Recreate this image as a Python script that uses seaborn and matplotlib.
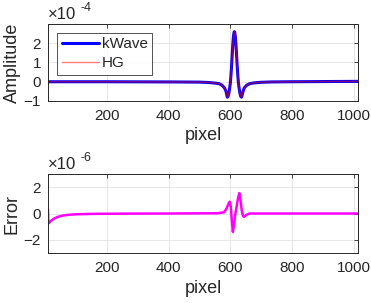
import pandas as pd
import matplotlib
matplotlib.use("Agg")
import matplotlib.pyplot as plt
import seaborn as sns

# amplitude traces (values in units of 1e-4)
amp_x = [10, 200, 400, 500, 530, 550, 563, 573, 581, 586, 588, 590, 592, 595, 598,
         600, 602, 604, 606, 608, 610, 612, 613, 614, 616, 618, 620, 622, 624, 626,
         628, 631, 634, 636, 638, 641, 645, 653, 663, 676, 698, 733, 800, 1013]
amp_y = [0.0, 0.0, -0.01, -0.02, -0.04, -0.07, -0.1, -0.18, -0.32, -0.5, -0.65, -0.8,
         -0.78, -0.6, -0.3, -0.05, 0.35, 0.85, 1.4, 1.95, 2.35, 2.58, 2.6, 2.58, 2.35,
         1.95, 1.4, 0.85, 0.35, -0.05, -0.3, -0.6, -0.78, -0.8, -0.7, -0.5, -0.32,
         -0.18, -0.1, -0.06, -0.03, -0.01, 0.0, 0.02]

# error trace (values in units of 1e-6)
err_x = [10, 11, 14, 20, 30, 40, 55, 75, 100, 150, 250, 400, 560, 580, 588, 594, 598,
         601, 604, 608, 611, 615, 620, 625, 629, 633, 637, 641, 645, 652, 662, 1013]
err_y = [0.35, -0.75, -0.7, -0.55, -0.38, -0.27, -0.17, -0.1, -0.06, -0.03, -0.01, 0.0,
         0.02, 0.1, 0.4, 0.75, 0.9, 0.6, -0.3, -1.4, -1.0, -0.2, 0.5, 1.2, 1.55, 1.0,
         0.2, -0.2, -0.25, -0.1, 0.0, 0.0]

xticks = [200, 400, 600, 800, 1000]

df_amp = pd.DataFrame({"pixel": amp_x, "amp": amp_y})
df_err = pd.DataFrame({"pixel": err_x, "err": err_y})

sns.set_style("white")
plt.rcParams["font.family"] = ["Liberation Sans", "DejaVu Sans"]
dark = "#262626"

fig = plt.figure(figsize=(3.71, 3.03), dpi=100)
ax1 = fig.add_axes([0.1294, 0.6667, 0.8356, 0.2541])
ax2 = fig.add_axes([0.1294, 0.165, 0.8356, 0.2607])

sns.lineplot(data=df_amp, x="pixel", y="amp", ax=ax1, color="#0000ff", lw=2.2, label="kWave")
sns.lineplot(data=df_amp, x="pixel", y="amp", ax=ax1, color="#ff0000", lw=1.0, alpha=0.5, label="HG")
sns.lineplot(data=df_err, x="pixel", y="err", ax=ax2, color="#ff00ff", lw=1.8)

ax1.set_ylim(-1, 3)
ax1.set_yticks([-1, 0, 1, 2])
ax2.set_ylim(-3, 3)
ax2.set_yticks([-2, 0, 2])

for ax, lab, ex in [(ax1, "Amplitude", "-4"), (ax2, "Error", "-6")]:
    ax.set_xlim(10, 1013)
    ax.set_xticks(xticks)
    ax.grid(True, color="#e3e3e3", lw=0.6)
    ax.tick_params(direction="in", top=True, right=True, length=3, width=0.6,
                   colors=dark, labelsize=11)
    ax.tick_params(axis="x", pad=6)
    ax.tick_params(axis="y", pad=5)
    for s in ax.spines.values():
        s.set_color(dark)
        s.set_linewidth(0.7)
    ax.set_xlabel("pixel", fontsize=13, color=dark, labelpad=3)
    ax.set_ylabel(lab, fontsize=13, color=dark, labelpad=2)
    ax.text(0.0, 1.02, "\u00d710", transform=ax.transAxes, fontsize=12, color=dark,
            ha="left", va="bottom")
    ax.text(0.105, 1.13, ex, transform=ax.transAxes, fontsize=9, color=dark,
            ha="left", va="bottom")

leg = ax1.legend(loc="upper left", bbox_to_anchor=(0.03, 0.885), borderaxespad=0,
                 fontsize=11, frameon=True, fancybox=False, handlelength=2.4,
                 handletextpad=0.2, borderpad=0.3, labelspacing=0.3)
leg.get_frame().set_edgecolor(dark)
leg.get_frame().set_linewidth(0.7)

fig.savefig("out.png", dpi=100)
